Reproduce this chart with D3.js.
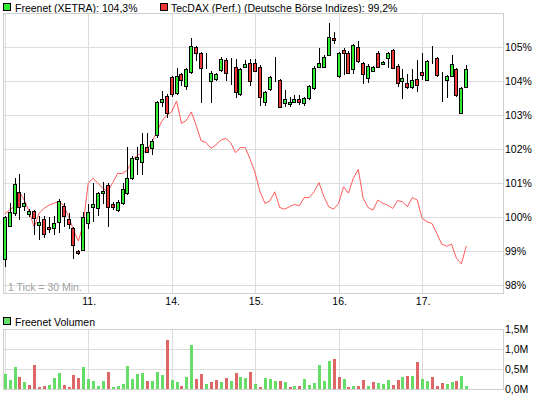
<!DOCTYPE html>
<html>
<head>
<meta charset="utf-8">
<script src="https://cdn.jsdelivr.net/npm/d3@7"></script>
<style>
  body { margin: 0; background: #fff; }
  text { font-family: "Liberation Sans", Arial, sans-serif; font-size: 10.5px; }
</style>
</head>
<body>
<div id="chart"></div>
<script>
// Freenet (XETRA), 30 min candles, in % of start
var opens = [98.76, 99.75, 100.12, 100.74, 100.34, 100.10, 100.18, 99.76, 99.94, 99.71,
  99.68, 99.87, 100.33, 99.94, 99.68, 99.00, 99.04, 99.82, 100.29, 100.26,
  100.71, 100.95, 100.38, 100.21, 100.41, 100.71, 101.15, 101.71, 101.64, 102.08,
  102.03, 102.42, 103.38, 103.57, 104.12, 103.65, 104.21, 103.86, 104.26, 105.01,
  104.82, 104.43, 104.01, 104.07, 104.32, 104.63, 104.38, 104.41, 103.62, 104.41,
  104.53, 104.53, 104.43, 103.40, 103.76, 104.16, 104.04, 103.37, 103.32, 103.40,
  103.47, 103.35, 103.50, 103.79, 104.41, 104.41, 104.77, 105.28, 104.16, 104.92,
  104.84, 104.36, 105.00, 104.53, 104.09, 104.30, 104.82, 104.50, 104.68, 104.92,
  104.46, 104.01, 103.94, 103.82, 104.06, 104.26, 104.04, 104.58, 104.69, 104.07,
  104.04, 104.15, 104.35, 103.06, 103.82];
var highs = [100.05, 100.41, 101.15, 101.27, 100.71, 100.25, 100.22, 100.05, 100.05, 100.02,
  100.05, 100.55, 100.42, 100.12, 99.72, 99.05, 100.16, 100.40, 101.00, 100.75,
  101.05, 101.00, 100.45, 100.50, 101.00, 102.08, 101.80, 102.08, 102.49, 102.49,
  102.30, 103.42, 103.71, 103.62, 104.15, 104.40, 104.25, 104.40, 105.28, 105.05,
  104.86, 104.84, 104.30, 104.25, 104.70, 104.68, 104.68, 104.66, 104.40, 104.62,
  104.66, 104.66, 104.47, 103.72, 104.15, 104.72, 104.08, 103.74, 103.55, 103.60,
  103.60, 103.55, 103.90, 104.45, 104.97, 104.76, 105.71, 105.45, 104.86, 104.98,
  104.88, 105.10, 105.19, 104.57, 104.50, 104.45, 104.90, 104.60, 104.86, 104.96,
  104.50, 104.37, 104.22, 104.35, 104.63, 104.84, 104.62, 105.05, 104.72, 104.28,
  104.18, 104.77, 104.38, 103.82, 104.48];
var lows = [98.55, 99.72, 100.05, 99.92, 100.18, 100.02, 99.48, 99.34, 99.38, 99.53,
  99.48, 99.53, 99.72, 99.67, 98.76, 98.90, 99.00, 99.65, 99.87, 100.05,
  100.40, 99.71, 100.20, 100.15, 100.35, 100.65, 101.10, 101.24, 101.24, 101.88,
  101.83, 102.34, 103.25, 102.91, 103.55, 103.60, 103.87, 103.75, 104.20, 104.60,
  103.37, 104.35, 103.35, 104.00, 104.28, 104.01, 103.90, 103.50, 103.58, 104.38,
  103.87, 104.28, 103.28, 103.28, 103.70, 103.99, 103.22, 103.25, 103.25, 103.36,
  103.30, 103.28, 103.45, 103.75, 104.38, 104.38, 104.73, 105.10, 104.10, 104.19,
  104.20, 104.20, 104.55, 103.91, 103.95, 104.27, 104.38, 104.47, 104.40, 104.36,
  103.84, 103.47, 103.78, 103.78, 103.69, 104.04, 104.00, 104.50, 104.14, 103.40,
  103.52, 104.12, 103.55, 103.03, 103.80];
var closes = [100.00, 100.15, 100.98, 100.31, 100.43, 100.18, 99.97, 99.86, 99.51, 99.65,
  99.84, 100.49, 100.04, 99.80, 99.19, 98.94, 100.00, 100.15, 100.39, 100.71,
  100.78, 100.29, 100.29, 100.46, 100.83, 101.15, 101.74, 101.77, 102.16, 101.91,
  102.25, 103.38, 103.47, 103.06, 103.62, 104.16, 104.04, 104.36, 105.03, 104.84,
  104.38, 104.43, 104.24, 104.21, 104.66, 104.24, 104.38, 103.69, 104.35, 104.50,
  104.02, 104.31, 103.55, 103.69, 104.12, 104.16, 103.25, 103.47, 103.40, 103.47,
  103.39, 103.50, 103.86, 104.40, 104.53, 104.72, 105.29, 105.20, 104.82, 104.84,
  104.24, 105.07, 104.60, 104.21, 104.46, 104.41, 104.41, 104.56, 104.82, 104.40,
  103.94, 104.09, 103.82, 104.04, 103.89, 104.18, 104.59, 104.58, 104.18, 104.07,
  104.15, 104.51, 103.59, 103.79, 104.35];

// TecDAX (Perf.) in %
var tecdax = [100.10, 100.21, 100.33, 100.75, 100.51, 100.16, 99.71, 100.12, 100.26, 100.36,
  100.41, 100.46, 100.36, 100.02, 99.63, 99.30, 99.80, 101.00, 101.15, 101.00,
  100.85, 100.75, 101.02, 101.29, 101.29, 101.39, 101.68, 101.83, 101.88, 101.98,
  102.22, 102.52, 102.83, 103.00, 103.10, 103.42, 102.76, 102.85, 103.10, 102.70,
  102.25, 102.20, 102.03, 102.13, 102.27, 102.32, 102.20, 101.90, 102.05, 102.05,
  101.70, 101.30, 100.75, 100.41, 100.48, 100.75, 100.29, 100.24, 100.31, 100.38,
  100.34, 100.58, 100.58, 100.75, 101.02, 100.61, 100.31, 100.24, 100.41, 100.90,
  100.71, 101.15, 101.41, 100.56, 100.29, 100.21, 100.51, 100.41, 100.36, 100.26,
  100.49, 100.46, 100.31, 100.58, 100.51, 99.97, 99.87, 99.82, 99.53, 99.21,
  99.15, 99.21, 98.79, 98.63, 99.16];

// Freenet Volumen in Mio.
var volumes = [0.375, 0.225, 0.55, 0.30, 0.175, 0.10, 0.60, 0.06, 0.075, 0.10,
  0.275, 0.40, 0.10, 0.05, 0.35, 0.275, 0.55, 0.25, 0.20, 0.075,
  0.20, 0.425, 0.05, 0.075, 0.125, 0.575, 0.25, 0.375, 0.40, 0.20,
  0.20, 0.425, 0.35, 1.225, 0.225, 0.175, 0.075, 0.30, 1.10, 0.25,
  0.375, 0.125, 0.175, 0.225, 0.175, 0.275, 0.20, 0.40, 0.30, 0.275,
  0.425, 0.125, 0.05, 0.275, 0.25, 0.20, 0.20, 0.17, 0.05, 0.07,
  0.08, 0.25, 0.10, 0.15, 0.60, 0.20, 0.70, 0.75, 0.30, 0.25,
  0.05, 0.08, 0.08, 0.23, 0.08, 0.17, 0.15, 0.12, 0.22, 0.10,
  0.22, 0.30, 0.32, 0.32, 0.68, 0.25, 0.20, 0.30, 0.08, 0.15,
  0.12, 0.17, 0.20, 0.33, 0.08];

var dayStarts = [0, 17, 34, 51, 68, 85];
var dayLabels = ["", "11.", "14.", "15.", "16.", "17."];
var pctTicks = [98, 99, 100, 101, 102, 103, 104, 105];
var volTicks = [0, 0.5, 1.0, 1.5];
var volTickLabels = ["0,0M", "0,5M", "1,0M", "1,5M"];

var width = 545, height = 398;
var plot = { left: 3, right: 503, top: 13, bottom: 293 };
var volPlot = { top: 329, bottom: 389 };

var green = "#2fee2f", red = "#ee3535";
var gridColor = "#dcdcdc";

var svg = d3.select("#chart")
  .append("svg")
  .attr("width", width)
  .attr("height", height)
  .style("display", "block");

var x = d3.scaleLinear().domain([0, 94]).range([4.7, 466.3]);
var y = d3.scaleLinear().domain([98, 105]).range([285.3, 47.3]);
var yVol = d3.scaleLinear().domain([0, 1.5]).range([volPlot.bottom, volPlot.top]);

function px(v) { return Math.round(v) + 0.5; }

// legend top
svg.append("rect").attr("x", 3.5).attr("y", 3.5).attr("width", 7).attr("height", 7)
  .attr("fill", green).attr("stroke", "#000");
svg.append("text").attr("x", 15).attr("y", 11.5)
  .text("Freenet (XETRA): 104,3%");
svg.append("rect").attr("x", 160.5).attr("y", 3.5).attr("width", 7).attr("height", 7)
  .attr("fill", red).attr("stroke", "#000");
svg.append("text").attr("x", 171).attr("y", 11.5)
  .text("TecDAX (Perf.) (Deutsche Börse Indizes): 99,2%");

// main panel grid
var main = svg.append("g").attr("shape-rendering", "crispEdges");
main.selectAll(".hgrid").data(pctTicks).enter().append("line")
  .attr("x1", plot.left).attr("x2", plot.right)
  .attr("y1", function(d) { return px(y(d)); })
  .attr("y2", function(d) { return px(y(d)); })
  .attr("stroke", gridColor);
main.selectAll(".vgrid").data(dayStarts).enter().append("line")
  .attr("x1", function(d) { return px(x(d)); })
  .attr("x2", function(d) { return px(x(d)); })
  .attr("y1", plot.top).attr("y2", plot.bottom)
  .attr("stroke", gridColor);
main.append("rect")
  .attr("x", plot.left + 0.5).attr("y", plot.top + 0.5)
  .attr("width", plot.right - plot.left).attr("height", plot.bottom - plot.top)
  .attr("fill", "none").attr("stroke", "#cfcfcf");

svg.selectAll(".ylab").data(pctTicks).enter().append("text")
  .attr("x", 505)
  .attr("y", function(d) { return y(d) + 4; })
  .text(function(d) { return d + "%"; });

svg.selectAll(".xlab").data(dayStarts.slice(1)).enter().append("text")
  .attr("x", function(d) { return x(d) + 1; })
  .attr("y", 305)
  .attr("text-anchor", "middle")
  .text(function(d, i) { return dayLabels[i + 1]; });

svg.append("text").attr("x", 8).attr("y", 291)
  .attr("fill", "#a0a0a0").text("1 Tick = 30 Min.");

// TecDAX line
var line = d3.line()
  .x(function(d, i) { return x(i); })
  .y(function(d) { return y(d); });
svg.append("path")
  .datum(tecdax)
  .attr("d", line)
  .attr("fill", "none")
  .attr("stroke", "#ff5a5a")
  .attr("stroke-width", 1);

// candles
var idx = d3.range(opens.length);
var candles = svg.append("g").attr("shape-rendering", "crispEdges");
candles.selectAll(".wick").data(idx).enter().append("line")
  .attr("x1", function(i) { return Math.round(x(i)) + 0.5; })
  .attr("x2", function(i) { return Math.round(x(i)) + 0.5; })
  .attr("y1", function(i) { return Math.round(y(highs[i])); })
  .attr("y2", function(i) { return Math.round(y(lows[i])); })
  .attr("stroke", "#000");
candles.selectAll(".body").data(idx).enter().append("rect")
  .attr("x", function(i) { return Math.round(x(i)) - 1.5; })
  .attr("y", function(i) { return px(y(Math.max(opens[i], closes[i]))); })
  .attr("width", 3)
  .attr("height", function(i) {
    return Math.round(y(Math.min(opens[i], closes[i]))) - Math.round(y(Math.max(opens[i], closes[i])));
  })
  .attr("fill", function(i) { return closes[i] >= opens[i] ? green : red; })
  .attr("stroke", "#000");

// volume panel
svg.append("rect").attr("x", 3.5).attr("y", 317.5).attr("width", 7).attr("height", 7)
  .attr("fill", "#66dd66").attr("stroke", "#000");
svg.append("text").attr("x", 15).attr("y", 325.5).text("Freenet Volumen");

var vol = svg.append("g").attr("shape-rendering", "crispEdges");
vol.selectAll(".vhgrid").data(volTicks).enter().append("line")
  .attr("x1", plot.left).attr("x2", plot.right)
  .attr("y1", function(d) { return px(yVol(d)); })
  .attr("y2", function(d) { return px(yVol(d)); })
  .attr("stroke", gridColor);
vol.selectAll(".vvgrid").data(dayStarts).enter().append("line")
  .attr("x1", function(d) { return px(x(d)); })
  .attr("x2", function(d) { return px(x(d)); })
  .attr("y1", volPlot.top).attr("y2", volPlot.bottom)
  .attr("stroke", gridColor);
vol.append("rect")
  .attr("x", plot.left + 0.5).attr("y", volPlot.top + 0.5)
  .attr("width", plot.right - plot.left).attr("height", volPlot.bottom - volPlot.top)
  .attr("fill", "none").attr("stroke", "#cfcfcf");

vol.selectAll(".vbar").data(idx).enter().append("rect")
  .attr("x", function(i) { return Math.round(x(i)) - 1; })
  .attr("y", function(i) { return Math.round(yVol(volumes[i])); })
  .attr("width", 3)
  .attr("height", function(i) { return volPlot.bottom - Math.round(yVol(volumes[i])); })
  .attr("fill", function(i) {
    // colour follows the close against the previous close
    if (i > 0 && closes[i] < closes[i - 1]) return "#dd6666";
    return "#66dd66";
  });

svg.selectAll(".vlab").data(volTicks).enter().append("text")
  .attr("x", 505)
  .attr("y", function(d) { return yVol(d) + 4; })
  .text(function(d, i) { return volTickLabels[i]; });
</script>
</body>
</html>
